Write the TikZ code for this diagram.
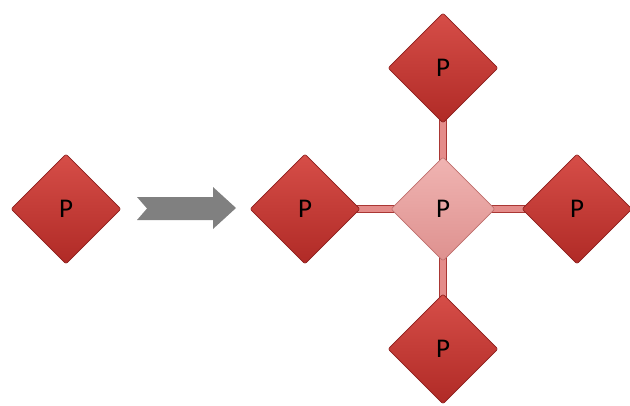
\documentclass[tikz,border=0pt]{standalone}
\usepackage{fontspec}
\setmainfont{Carlito}
\usetikzlibrary{shapes.geometric,backgrounds}
\definecolor{redtop}{RGB}{214,78,72}
\definecolor{redbot}{RGB}{176,42,38}
\definecolor{rededge}{RGB}{140,30,28}
\definecolor{pinktop}{RGB}{240,180,178}
\definecolor{pinkbot}{RGB}{222,145,143}
\definecolor{pinkedge}{RGB}{190,110,108}
\definecolor{barfill}{RGB}{228,140,138}
\definecolor{baredge}{RGB}{170,55,52}
\definecolor{arrowgray}{RGB}{128,128,128}
\tikzset{
  pnode/.style={diamond, aspect=1, inner sep=0pt, minimum width=110pt, minimum height=110pt,
    rounded corners=2pt,
    top color=redtop, bottom color=redbot, draw=rededge, line width=0.6pt,
    font=\fontsize{27}{30}\selectfont, text=black},
  hubnode/.style={pnode, minimum width=104pt, minimum height=104pt,
    top color=pinktop, bottom color=pinkbot, draw=pinkedge},
  bar/.style={draw=baredge, line width=1pt, double=barfill, double distance=6.5pt}
}
\begin{document}
\begin{tikzpicture}[x=1pt,y=-1pt]
\useasboundingbox (0,0) rectangle (630,405);
\node[pnode] (src) at (66,209) {P};
\fill[arrowgray] (137,197) -- (213,197) -- (213,187) -- (236,208) -- (213,229) -- (213,220) -- (137,220) -- (147,208.5) -- cycle;
\node[hubnode] (hub) at (443,209) {P};
\node[pnode] (top) at (443,68) {P};
\node[pnode] (left) at (305,209) {P};
\node[pnode] (right) at (577,209) {P};
\node[pnode] (bot) at (443,349) {P};
\begin{scope}[on background layer]
\draw[bar] (hub.center) -- (top.center);
\draw[bar] (hub.center) -- (left.center);
\draw[bar] (hub.center) -- (right.center);
\draw[bar] (hub.center) -- (bot.center);
\end{scope}
\end{tikzpicture}
\end{document}
